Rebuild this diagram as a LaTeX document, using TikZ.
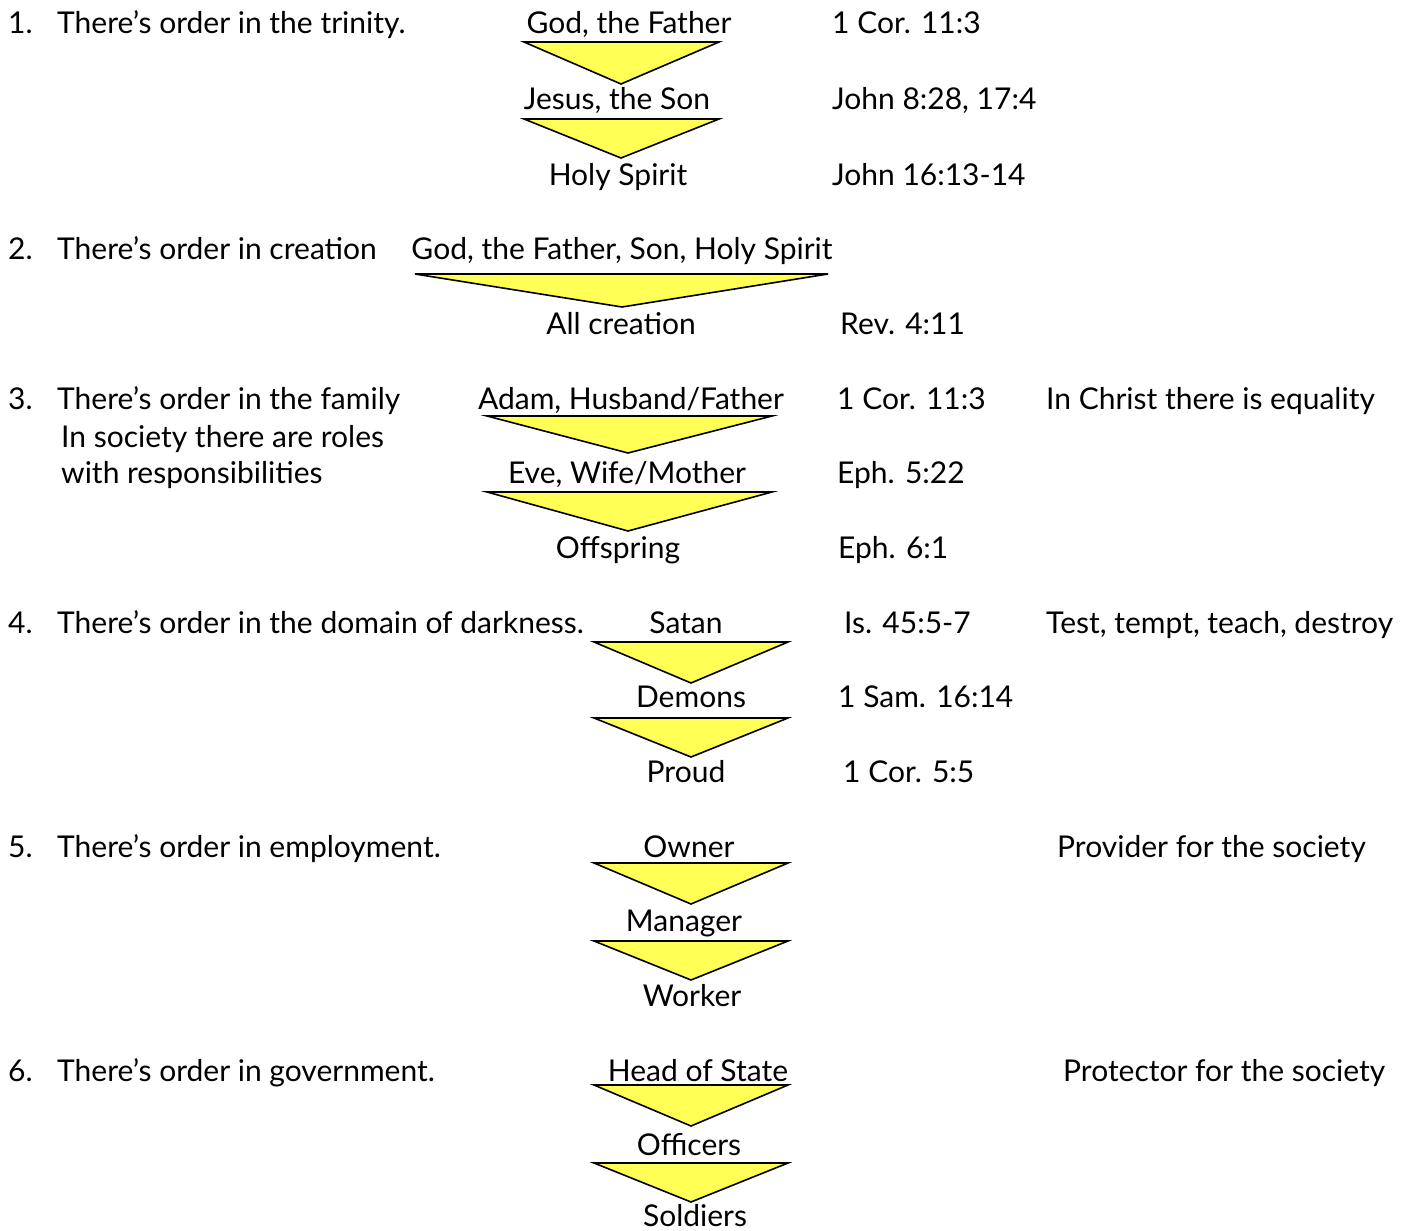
\documentclass[tikz,border=0pt]{standalone}
\usepackage{fontspec}
\setmainfont{Lato}
\usepackage{tikz}

\definecolor{triyellow}{RGB}{255,255,85}

\tikzset{
  lbl/.style={anchor=base west, inner sep=0pt, font=\fontsize{30}{34}\selectfont},
  nm/.style={anchor=base, inner sep=0pt, font=\fontsize{30}{34}\selectfont},
  tri/.style={draw=black, fill=triyellow, line width=1.6pt, line join=miter},
  topbar/.style={draw=black, line width=2.6pt}
}

\begin{document}
\begin{tikzpicture}[x=1pt, y=-1pt]
    \useasboundingbox (0,0) rectangle (1401,1231);

    % 1. trinity
    \node [lbl] (n1) at (8,34) {1.};
    \node [lbl] (t1) at (57,34) {There’s order in the trinity.};
    \node [nm] (father) at (629,34) {God, the Father};
    \node [nm] (son) at (617,110) {Jesus, the Son};
    \node [nm] (spirit) at (618,185) {Holy Spirit};
    \node [lbl] (r11) at (832,34) {1 Cor. 11:3};
    \node [lbl] (r12) at (832,110) {John 8:28, 17:4};
    \node [lbl] (r13) at (832,185) {John 16:13-14};
    \draw [tri] (524,42) -- (719,42) -- (621,84) -- cycle;
    \draw [topbar] (524,42) -- (719,42);
    \draw [tri] (524,119) -- (719,119) -- (621,158) -- cycle;
    \draw [topbar] (524,119) -- (719,119);

    % 2. creation
    \node [lbl] (n2) at (8,259) {2.};
    \node [lbl] (t2) at (57,259) {There’s order in creation};
    \node [nm] (godhead) at (622,259) {God, the Father, Son, Holy Spirit};
    \node [nm] (creation) at (621,334) {All creation};
    \node [lbl] (r21) at (840,334) {Rev. 4:11};
    \draw [tri] (415,274) -- (828,274) -- (622,307) -- cycle;
    \draw [topbar] (415,274) -- (828,274);

    % 3. family
    \node [lbl] (n3) at (8,409) {3.};
    \node [lbl] (t3) at (57,409) {There’s order in the family};
    \node [lbl] (t3b) at (61,447) {In society there are roles};
    \node [lbl] (t3c) at (61,483) {with responsibilities};
    \node [nm] (adam) at (631,409) {Adam, Husband/Father};
    \node [nm] (eve) at (627,483) {Eve, Wife/Mother};
    \node [nm] (offspring) at (618,558) {Offspring};
    \node [lbl] (r31) at (837,409) {1 Cor. 11:3};
    \node [lbl] (r32) at (837,483) {Eph. 5:22};
    \node [lbl] (r33) at (838,558) {Eph. 6:1};
    \node [lbl] (c3) at (1046,409) {In Christ there is equality};
    \draw [tri] (487,416) -- (772,416) -- (628,453) -- cycle;
    \draw [topbar] (487,416) -- (772,416);
    \draw [tri] (487,492) -- (772,492) -- (628,531) -- cycle;
    \draw [topbar] (487,492) -- (772,492);

    % 4. darkness
    \node [lbl] (n4) at (8,633) {4.};
    \node [lbl] (t4) at (57,633) {There’s order in the domain of darkness.};
    \node [nm] (satan) at (686,633) {Satan};
    \node [nm] (demons) at (691,707) {Demons};
    \node [nm] (proud) at (686,782) {Proud};
    \node [lbl] (r41) at (844,633) {Is. 45:5-7};
    \node [lbl] (r42) at (838,707) {1 Sam. 16:14};
    \node [lbl] (r43) at (843,782) {1 Cor. 5:5};
    \node [lbl] (c4) at (1046,633) {Test, tempt, teach, destroy};
    \draw [tri] (594,642) -- (788,642) -- (691,683) -- cycle;
    \draw [topbar] (594,642) -- (788,642);
    \draw [tri] (594,718) -- (788,718) -- (691,757) -- cycle;
    \draw [topbar] (594,718) -- (788,718);

    % 5. employment
    \node [lbl] (n5) at (8,857) {5.};
    \node [lbl] (t5) at (57,857) {There’s order in employment.};
    \node [nm] (owner) at (689,857) {Owner};
    \node [nm] (manager) at (684,931) {Manager};
    \node [nm] (worker) at (692,1006) {Worker};
    \node [lbl] (c5) at (1057,857) {Provider for the society};
    \draw [tri] (594,863) -- (788,863) -- (691,904) -- cycle;
    \draw [topbar] (594,863) -- (788,863);
    \draw [tri] (594,941) -- (788,941) -- (691,980) -- cycle;
    \draw [topbar] (594,941) -- (788,941);

    % 6. government
    \node [lbl] (n6) at (8,1081) {6.};
    \node [lbl] (t6) at (57,1081) {There’s order in government.};
    \node [nm] (head) at (698,1081) {Head of State};
    \node [nm] (officers) at (689,1155) {Officers};
    \node [nm] (soldiers) at (695,1226) {Soldiers};
    \node [lbl] (c6) at (1063,1081) {Protector for the society};
    \draw [tri] (594,1085) -- (788,1085) -- (691,1126) -- cycle;
    \draw [topbar] (594,1085) -- (788,1085);
    \draw [tri] (594,1163) -- (788,1163) -- (691,1202) -- cycle;
    \draw [topbar] (594,1163) -- (788,1163);

\end{tikzpicture}
\end{document}
